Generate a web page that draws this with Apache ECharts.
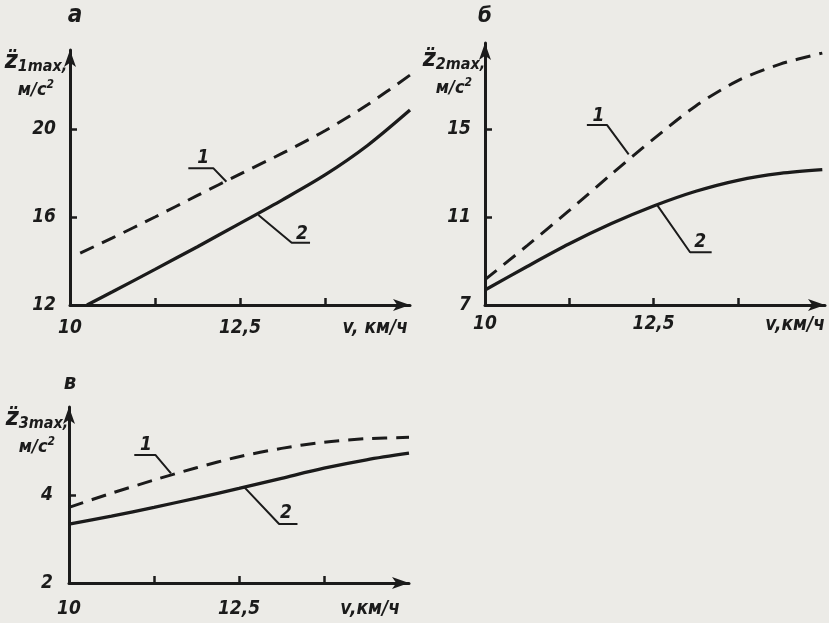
<!DOCTYPE html>
<html><head><meta charset="utf-8">
<script src="https://cdn.jsdelivr.net/npm/echarts@6/dist/echarts.min.js"></script>
<style>html,body{margin:0;background:#ecebe7}#c{width:829px;height:623px}</style>
</head><body><div id="c"></div>
<script>
// ---------- data ----------
const speed = [10, 10.625, 11.25, 11.875, 12.5, 13.125, 13.75, 14.375, 15];
const aSpeed1 = [10.15, 10.625, 11.25, 11.875, 12.5, 13.125, 13.75, 14.375, 15];
const aSpeed2 = [10.25, 10.625, 11.25, 11.875, 12.5, 13.125, 13.75, 14.375, 15];
const a1 = [14.36, 15.05, 16.0, 16.98, 17.95, 18.9, 19.92, 21.1, 22.45];
const a2 = [12.0, 12.6, 13.62, 14.65, 15.71, 16.78, 17.91, 19.25, 20.86];
const b1 = [8.15, 9.7, 11.3, 12.95, 14.55, 16.05, 17.2, 17.95, 18.45];
const b2 = [7.68, 8.75, 9.78, 10.7, 11.5, 12.17, 12.67, 12.98, 13.15];
const c1 = [3.72, 4.04, 4.34, 4.62, 4.87, 5.06, 5.2, 5.28, 5.31];
const c2 = [3.34, 3.52, 3.72, 3.93, 4.15, 4.38, 4.61, 4.8, 4.95];

const xTickVals = [11.25, 12.5, 13.75];
const xLabelVals = [10, 12.5];
const aYTicks = [16, 20], aYLabels = [12, 16, 20];
const bYTicks = [11, 15], bYLabels = [7, 11, 15];
const cYTicks = [4], cYLabels = [2, 4];

// leader lines (data coordinates) and curve numbers
const aLead1 = [[11.74, 18.21], [12.11, 18.21], [12.30, 17.60]];
const aLead2 = [[12.77, 16.09], [13.26, 14.83], [13.53, 14.83]];
const bLead1 = [[11.51, 15.18], [11.81, 15.18], [12.13, 13.85]];
const bLead2 = [[12.55, 11.55], [13.04, 9.40], [13.36, 9.40]];
const cLead1 = [[10.96, 4.91], [11.27, 4.91], [11.50, 4.49]];
const cLead2 = [[12.57, 4.19], [13.09, 3.34], [13.36, 3.34]];
const aNums = [{name: '1', value: [11.96, 18.68]}, {name: '2', value: [13.41, 15.22]}];
const bNums = [{name: '1', value: [11.68, 15.60]}, {name: '2', value: [13.19, 9.84]}];
const cNums = [{name: '1', value: [11.13, 5.14]}, {name: '2', value: [13.19, 3.60]}];

// ---------- style ----------
const INK = '#1b1b1b';
const F = "'Liberation Sans Narrow','DejaVu Sans Condensed',sans-serif";
const zip = (xs, ys) => xs.map((x, i) => [x, ys[i]]);
const fmt = v => String(v).replace('.', ',');
const lblStyle = {color: INK, fontFamily: F, fontSize: 19, fontStyle: 'italic', fontWeight: 'bold'};

function xAx(gi, max, margin) {
  return {
    type: 'value', gridIndex: gi, min: 10, max: max,
    axisLine: {show: true, onZero: false, symbol: ['none', 'arrow'], symbolSize: [9, 17], lineStyle: {color: INK, width: 3}},
    axisTick: {show: true, inside: true, length: 7, customValues: xTickVals, lineStyle: {color: INK, width: 2.5}},
    axisLabel: Object.assign({customValues: xLabelVals, formatter: fmt, margin: margin}, lblStyle),
    splitLine: {show: false}
  };
}
function yAx(gi, min, max, ticks, labels, margin) {
  return {
    type: 'value', gridIndex: gi, min: min, max: max, position: 'left',
    axisLine: {show: true, onZero: false, symbol: ['none', 'arrow'], symbolSize: [9, 17], lineStyle: {color: INK, width: 3}},
    axisTick: {show: true, inside: true, length: 7, customValues: ticks, lineStyle: {color: INK, width: 2.5}},
    axisLabel: Object.assign({customValues: labels, formatter: fmt, margin: margin}, lblStyle),
    splitLine: {show: false}
  };
}
function curve(gi, data, dashed) {
  return {
    type: 'line', xAxisIndex: gi, yAxisIndex: gi, data: data, symbol: 'none', smooth: 0.3,
    lineStyle: {color: INK, width: dashed ? 3 : 3.3, type: dashed ? [15, 9] : 'solid'}, silent: true, z: 3
  };
}
function lead(gi, data) {
  return {
    type: 'line', xAxisIndex: gi, yAxisIndex: gi, data: data, symbol: 'none',
    lineStyle: {color: INK, width: 2}, silent: true, z: 2
  };
}
function nums(gi, data) {
  return {
    type: 'scatter', xAxisIndex: gi, yAxisIndex: gi, data: data, symbolSize: 0, silent: true,
    itemStyle: {color: INK, opacity: 1},
    label: Object.assign({show: true, position: 'inside', formatter: p => p.name, opacity: 1}, lblStyle)
  };
}
function txt(x, y, text, size, align, vAlign, rich) {
  return {
    type: 'text', x: x, y: y, silent: true,
    style: {text: text, fill: INK, fontFamily: F, fontSize: size, fontStyle: 'italic', fontWeight: 'bold',
            align: align, verticalAlign: vAlign, rich: rich}
  };
}
function yName(x, y, idx) {
  return txt(x, y, '{z|z\u0308}{s|' + idx + 'max,}\n{u|м/с}{p|2}', 17, 'center', 'top', {
    z: {fontSize: 25, lineHeight: 27, fontFamily: F, fontStyle: 'italic', fontWeight: 'bold', fill: INK},
    s: {fontSize: 16, verticalAlign: 'bottom', fontFamily: F, fontStyle: 'italic', fontWeight: 'bold', fill: INK},
    u: {fontSize: 18, lineHeight: 30, fontFamily: F, fontStyle: 'italic', fontWeight: 'bold', fill: INK},
    p: {fontSize: 12, verticalAlign: 'top', padding: [4, 0, 0, 0], fontFamily: F, fontStyle: 'italic', fontWeight: 'bold', fill: INK}
  });
}

const option = {
  backgroundColor: '#ecebe7',
  animation: false,
  grid: [
    {left: 70, top: 50, width: 340, height: 255, outerBoundsMode: 'none'},
    {left: 485, top: 43, width: 340, height: 262, outerBoundsMode: 'none'},
    {left: 69, top: 407, width: 340, height: 176, outerBoundsMode: 'none'}
  ],
  xAxis: [xAx(0, 15, 14), xAx(1, 15.04, 10), xAx(2, 15, 17)],
  yAxis: [
    yAx(0, 12, 23.59, aYTicks, aYLabels, 14),
    yAx(1, 7, 18.91, bYTicks, bYLabels, 14),
    yAx(2, 2, 6, cYTicks, cYLabels, 16)
  ],
  series: [
    curve(0, zip(aSpeed1, a1), true), curve(0, zip(aSpeed2, a2), false),
    curve(1, zip(speed, b1), true), curve(1, zip(speed, b2), false),
    curve(2, zip(speed, c1), true), curve(2, zip(speed, c2), false),
    lead(0, aLead1), lead(0, aLead2), lead(1, bLead1), lead(1, bLead2), lead(2, cLead1), lead(2, cLead2),
    nums(0, aNums), nums(1, bNums), nums(2, cNums)
  ],
  graphic: [
    txt(75, 16, 'а', 24, 'center', 'middle'),
    txt(485, 16, 'б', 22, 'center', 'middle'),
    txt(70, 383, 'в', 22, 'center', 'middle'),
    yName(36, 48, 1),
    yName(454, 46, 2),
    yName(37, 405, 3),
    txt(408, 319, 'v, км/ч', 19, 'right', 'top'),
    txt(825, 316, 'v,км/ч', 19, 'right', 'top'),
    txt(400, 600, 'v,км/ч', 19, 'right', 'top')
  ]
};
const chart = echarts.init(document.getElementById('c'), null, {renderer: 'canvas'});
chart.setOption(option);
</script></body></html>
